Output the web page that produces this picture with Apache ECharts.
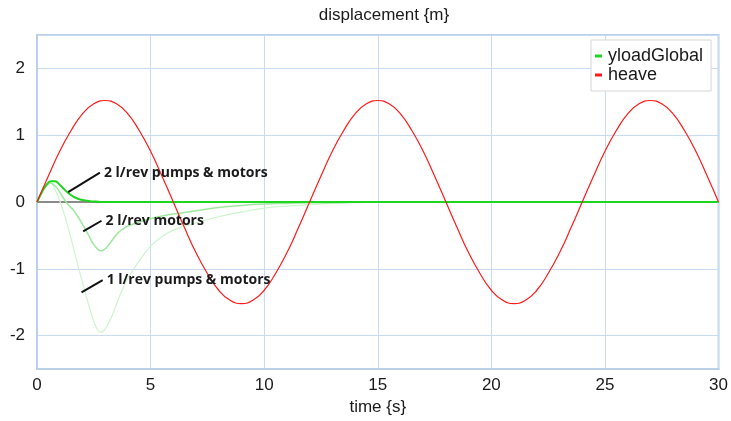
<!DOCTYPE html>
<html>
<head>
<meta charset="utf-8">
<script src="https://cdn.jsdelivr.net/npm/echarts@6/dist/echarts.min.js"></script>
<style>
    html, body { margin: 0; padding: 0; background: #fff; }
    #main { width: 731px; height: 421px; }
</style>
</head>
<body>
<div id="main"></div>
<script>
// heave, sampled every 0.5 s
var heaveTime = [];
for (var k = 0; k <= 60; k++) { heaveTime.push(k * 0.5); }
var heave = [
    0, 0.39, 0.76, 1.07, 1.32, 1.47, 1.52, 1.47, 1.32, 1.07, 0.76, 0.39,
    0, -0.39, -0.76, -1.07, -1.32, -1.47, -1.52, -1.47, -1.32, -1.07, -0.76, -0.39,
    0, 0.39, 0.76, 1.07, 1.32, 1.47, 1.52, 1.47, 1.32, 1.07, 0.76, 0.39,
    0, -0.39, -0.76, -1.07, -1.32, -1.47, -1.52, -1.47, -1.32, -1.07, -0.76, -0.39,
    0, 0.39, 0.76, 1.07, 1.32, 1.47, 1.52, 1.47, 1.32, 1.07, 0.76, 0.39,
    0
];

// yloadGlobal runs
var greenTime = [0, 0.2, 0.4, 0.6, 0.8, 1, 1.2, 1.4, 1.6, 1.8, 2, 2.2, 2.4, 2.6, 2.8,
    3, 3.2, 3.4, 3.6, 3.8, 4, 4.5, 5, 5.5, 6, 7, 8, 9, 10, 11, 12, 13, 14, 16, 18, 20, 25, 30];
var pumpsMotors2 = [0, 0.14, 0.25, 0.31, 0.31, 0.26, 0.19, 0.13, 0.08, 0.05, 0.03, 0.02, 0.01, 0.01, 0,
    0, 0, 0, 0, 0, 0, 0, 0, 0, 0, 0, 0, 0, 0, 0, 0, 0, 0, 0, 0, 0, 0, 0];
var motors2 = [0, 0.13, 0.24, 0.28, 0.24, 0.15, 0.04, -0.05, -0.12, -0.22, -0.33, -0.45, -0.58, -0.68, -0.73,
    -0.70, -0.62, -0.53, -0.45, -0.40, -0.36, -0.30, -0.25, -0.21, -0.18, -0.13, -0.08, -0.05, -0.03, -0.02,
    -0.01, -0.01, 0, 0, 0, 0, 0, 0];
var pumpsMotors1 = [0, 0.13, 0.25, 0.29, 0.18, 0.02, -0.18, -0.42, -0.68, -0.95, -1.20, -1.45, -1.68, -1.87, -1.95,
    -1.90, -1.78, -1.62, -1.44, -1.28, -1.14, -0.88, -0.66, -0.52, -0.42, -0.31, -0.22, -0.15, -0.09, -0.06,
    -0.04, -0.02, -0.01, 0, 0, 0, 0, 0];

var xTicks = [0, 5, 10, 15, 20, 25, 30];

// annotation lines: [from, to] in data units, text starts at "to"
var notes = [
    {text: '2 l/rev pumps & motors', from: [1.37, 0.15], to: [2.77, 0.44]},
    {text: '2 l/rev motors', from: [2.03, -0.44], to: [2.84, -0.28]},
    {text: '1 l/rev pumps & motors', from: [1.96, -1.35], to: [2.89, -1.17]}
];

function pairs(xs, ys) {
    return xs.map(function (x, i) { return [x, ys[i]]; });
}

(function () {
    var font = 'Liberation Sans, Arial, sans-serif';
    var gridBlue = '#c9dbf0';
    var frameBlue = '#bccfe8';

    var option = {
        animation: false,
        backgroundColor: '#fff',
        title: {
            text: 'displacement {m}',
            left: 379,
            top: 2,
            textAlign: 'center',
            textStyle: {fontFamily: font, fontSize: 17, fontWeight: 'normal', color: '#1a1a1a'}
        },
        legend: {
            data: ['yloadGlobal', 'heave'],
            orient: 'vertical',
            left: 591,
            top: 40,
            padding: [7, 8, 7, 4],
            itemGap: 1,
            itemWidth: 7,
            itemHeight: 3,
            icon: 'rect',
            backgroundColor: '#fff',
            borderColor: '#d6d6d6',
            borderWidth: 1,
            textStyle: {fontFamily: font, fontSize: 18, color: '#1a1a1a', lineHeight: 18, padding: [0, 0, 0, 1]}
        },
        grid: {
            left: 37, right: 11, top: 35, bottom: 51,
            show: true,
            borderColor: frameBlue,
            borderWidth: 2,
            containLabel: false
        },
        xAxis: {
            type: 'value',
            min: xTicks[0],
            max: xTicks[xTicks.length - 1],
            interval: 5,
            name: 'time {s}',
            nameLocation: 'middle',
            nameGap: 29,
            nameTextStyle: {fontFamily: font, fontSize: 17, color: '#1a1a1a'},
            axisLine: {show: true, onZero: false, lineStyle: {color: frameBlue, width: 2}},
            axisTick: {show: false},
            axisLabel: {fontFamily: font, fontSize: 17, color: '#1a1a1a', margin: 8},
            splitLine: {show: true, lineStyle: {color: gridBlue, width: 1}}
        },
        yAxis: {
            type: 'value',
            min: -2.5,
            max: 2.5,
            splitNumber: 5,
            axisLine: {show: true, lineStyle: {color: frameBlue, width: 2}},
            axisTick: {show: false},
            axisLabel: {
                fontFamily: font, fontSize: 17, color: '#1a1a1a', margin: 12,
                formatter: function (v) { return Number.isInteger(v) ? String(v) : ''; }
            },
            splitLine: {show: true, lineStyle: {color: gridBlue, width: 1}}
        },
        series: [
            {
                name: 'yloadGlobal 1',
                type: 'line',
                data: pairs(greenTime, pumpsMotors1),
                smooth: 0.4,
                showSymbol: false,
                color: '#cdf5cd',
                lineStyle: {width: 1.2},
                markLine: {
                    silent: true,
                    z: 1,
                    symbol: ['none', 'none'],
                    label: {show: false},
                    lineStyle: {color: '#8a8a8a', width: 2, type: 'solid'},
                    data: [{yAxis: 0}]
                }
            },
            {
                name: 'yloadGlobal 2',
                type: 'line',
                data: pairs(greenTime, motors2),
                smooth: 0.4,
                showSymbol: false,
                color: '#9ee99e',
                lineStyle: {width: 1.5}
            },
            {
                name: 'yloadGlobal',
                type: 'line',
                data: pairs(greenTime, pumpsMotors2),
                smooth: 0.4,
                showSymbol: false,
                color: '#1fd61f',
                lineStyle: {width: 2}
            },
            {
                name: 'heave',
                type: 'line',
                data: pairs(heaveTime, heave),
                smooth: true,
                showSymbol: false,
                color: '#ff1a1a',
                lineStyle: {width: 1.2},
                markLine: {
                    silent: true,
                    symbol: ['none', 'none'],
                    label: {show: false},
                    lineStyle: {color: '#111', width: 2, type: 'solid'},
                    data: notes.map(function (n) {
                        return [{coord: n.from}, {coord: n.to}];
                    })
                },
                markPoint: {
                    silent: true,
                    symbol: 'circle',
                    symbolSize: 0,
                    data: notes.map(function (n) {
                        return {
                            coord: n.to,
                            label: {
                                show: true,
                                position: 'right',
                                distance: 4,
                                formatter: n.text,
                                fontFamily: 'Open Sans, sans-serif',
                                fontWeight: 'bold',
                                fontSize: 14,
                                color: '#1a1a1a'
                            }
                        };
                    })
                }
            }
        ]
    };

    var myChart = echarts.init(document.getElementById('main'));
    myChart.setOption(option);
})();
</script>
</body>
</html>
